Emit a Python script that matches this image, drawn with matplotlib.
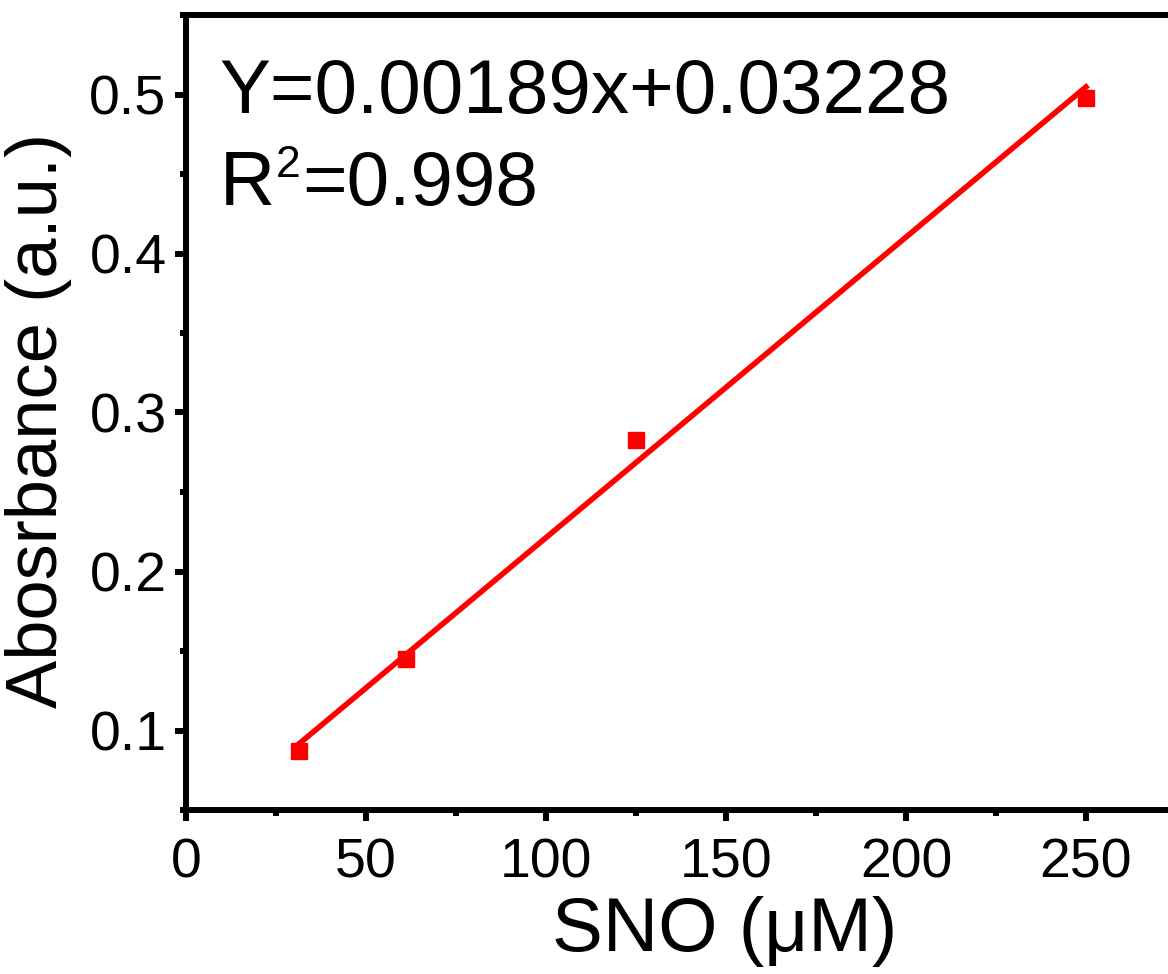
import matplotlib
matplotlib.use("Agg")
import matplotlib.pyplot as plt
from matplotlib.ticker import MultipleLocator
import numpy as np

plt.rcParams['font.family'] = ['Liberation Sans', 'DejaVu Sans']

conc = [31.25, 61.0, 125.0, 250.0]
absorb = [0.087, 0.145, 0.283, 0.498]
slope = 0.00189
intercept = 0.03228
eq_text = "Y=0.00189x+0.03228"
r2_value = "=0.998"

W, H = 1168, 974
fig = plt.figure(figsize=(W / 100, H / 100), dpi=100)
left_px, right_px, top_px, bot_px = 186, 1176, 15, 810
ax = fig.add_axes([left_px / W, 1 - bot_px / H, (right_px - left_px) / W, (bot_px - top_px) / H])

fit_x = np.array([conc[0], conc[-1]])
fit_y = slope * fit_x + intercept
ax.plot(conc, absorb, 's', color='#ff0000', markersize=12, zorder=2, clip_on=False)
ax.plot(fit_x, fit_y, '-', color='#ff0000', lw=4.0, zorder=3)

ax.set_xlim(0, 275)
ax.set_ylim(0.05, 0.55)
ax.xaxis.set_major_locator(MultipleLocator(50))
ax.xaxis.set_minor_locator(MultipleLocator(25))
ax.yaxis.set_major_locator(MultipleLocator(0.1))
ax.yaxis.set_minor_locator(MultipleLocator(0.05))

for s in ax.spines.values():
    s.set_linewidth(4.3)
ax.tick_params(which='major', direction='out', length=8, width=4.3, labelsize=40, pad=6)
ax.tick_params(axis='x', which='major', pad=12)
ax.tick_params(which='minor', direction='out', length=4, width=4.3)
ax.tick_params(axis='x', which='both', top=False)
ax.tick_params(axis='y', which='both', right=False)

ax.set_xlabel("SNO (μM)", fontsize=55)
ax.set_ylabel("Abosrbance (a.u.)", fontsize=52)
ax.xaxis.set_label_coords(0.544, -0.108)
ax.yaxis.set_label_coords(-0.115, 0.49)

ax.text(0.034, 0.877, eq_text, transform=ax.transAxes, fontsize=55, va='baseline', ha='left')
t1 = ax.text(0.034, 0.761, "R", transform=ax.transAxes, fontsize=55, va='baseline', ha='left')
t2 = ax.annotate("2", xy=(1, 0), xycoords=t1, xytext=(1, 44), textcoords='offset pixels',
                 fontsize=32, va='baseline', ha='left')
ax.annotate(r2_value, xy=(1, 0), xycoords=(t2, t1), xytext=(2, 0), textcoords='offset pixels',
            fontsize=55, va='bottom', ha='left')

fig.savefig("out.png", dpi=100)
